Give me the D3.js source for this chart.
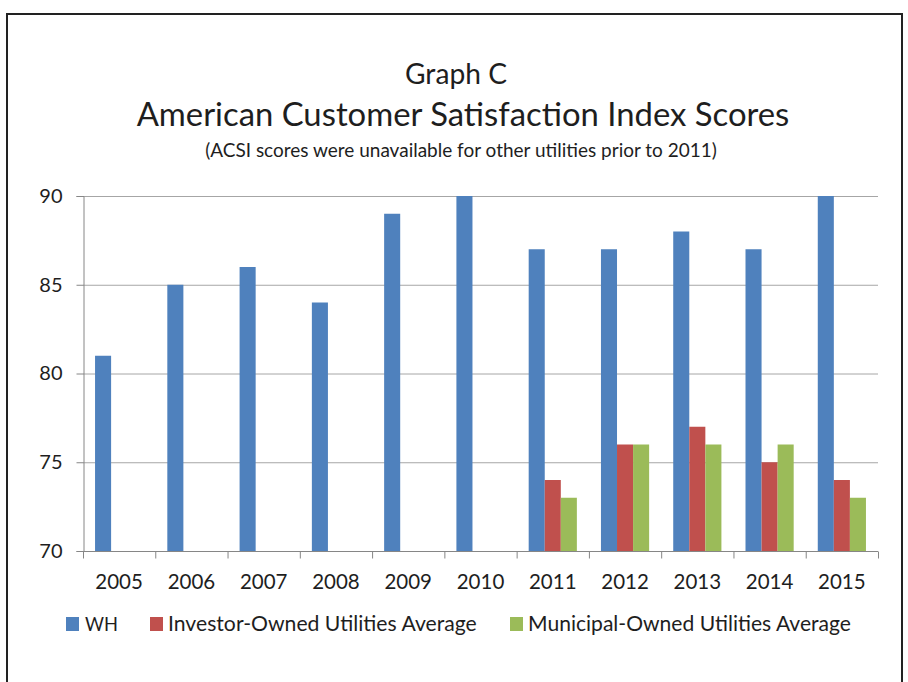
<!DOCTYPE html>
<html>
<head>
<meta charset="utf-8">
<script src="https://cdn.jsdelivr.net/npm/d3@7"></script>
<style>
  body { margin: 0; background: #fff; }
  text { font-family: Lato, "Open Sans", sans-serif; fill: #1e1e1e; }
</style>
</head>
<body>
<svg id="chart"></svg>
<script>
// chart size
var width = 908;
var height = 682;

// data
var years = ["2005", "2006", "2007", "2008", "2009", "2010", "2011", "2012", "2013", "2014", "2015"];
var seriesNames = ["WH", "Investor-Owned Utilities Average", "Municipal-Owned Utilities Average"];
var whScores = [81, 85, 86, 84, 89, 90, 87, 87, 88, 87, 90];
var investorScores = [null, null, null, null, null, null, 74, 76, 77, 75, 74];
var municipalScores = [null, null, null, null, null, null, 73, 76, 76, 76, 73];
var yTicks = [70, 75, 80, 85, 90];
var colors = ["#4f81bd", "#c0504d", "#9bbb59"];

var margin = {top: 196, right: 30, bottom: 131, left: 83};

var svg = d3.select("#chart")
            .attr("width", width)
            .attr("height", height);

// outer frame
svg.append("rect")
  .attr("x", 7).attr("y", 14)
  .attr("width", 895).attr("height", 720)
  .attr("fill", "none")
  .attr("stroke", "#222")
  .attr("stroke-width", 2);

// fit a text to a wanted width by changing its font size
function fitText(sel, target) {
  var w = sel.node().getComputedTextLength();
  var fs = parseFloat(sel.attr("font-size"));
  sel.attr("font-size", fs * target / w);
}

var t1 = svg.append("text").attr("x", 456).attr("y", 84)
  .attr("text-anchor", "middle").attr("font-size", 28).text("Graph C");
fitText(t1, 102);
var t2 = svg.append("text").attr("x", 463).attr("y", 126)
  .attr("text-anchor", "middle").attr("font-size", 30).text("American Customer Satisfaction Index Scores");
fitText(t2, 653);
var t3 = svg.append("text").attr("x", 461).attr("y", 157)
  .attr("text-anchor", "middle").attr("font-size", 16).text("(ACSI scores were unavailable for other utilities prior to 2011)");
fitText(t3, 512);

var x0 = d3.scaleBand()
  .domain(years)
  .range([margin.left, width - margin.right])
  .paddingInner(0).paddingOuter(0);

// bars take 3 of 4.5 parts of each band (Excel gap width 150%)
var x1 = d3.scaleBand()
  .domain([0, 1, 2])
  .range([x0.bandwidth() * 0.75 / 4.5, x0.bandwidth() - x0.bandwidth() * 0.75 / 4.5]);

var y = d3.scaleLinear()
  .domain([70, 90])
  .range([height - margin.bottom, margin.top]);

// gridlines
svg.append("g")
  .selectAll("line")
  .data(yTicks)
  .enter()
  .append("line")
  .attr("x1", margin.left).attr("x2", width - margin.right)
  .attr("y1", function(d) { return y(d) + 0.5; })
  .attr("y2", function(d) { return y(d) + 0.5; })
  .attr("stroke", "#a6a6a6")
  .attr("stroke-width", 1);

// bars
var table = years.map(function(yr, i) {
  return {year: yr, values: [whScores[i], investorScores[i], municipalScores[i]]};
});

var groups = svg.append("g")
  .selectAll("g")
  .data(table)
  .enter()
  .append("g")
  .attr("transform", function(d) { return "translate(" + x0(d.year) + ",0)"; });

groups.selectAll("rect")
  .data(function(d) {
    return d.values.map(function(v, k) { return {k: k, v: v}; })
                   .filter(function(e) { return e.v != null; });
  })
  .enter()
  .append("rect")
  .attr("x", function(d) { return x1(d.k); })
  .attr("width", x1.bandwidth())
  .attr("y", function(d) { return y(d.v); })
  .attr("height", function(d) { return y(70) - y(d.v); })
  .attr("fill", function(d) { return colors[d.k]; });

// y axis
var yAxis = svg.append("g")
  .attr("transform", "translate(" + (margin.left + 0.5) + ",0)")
  .call(d3.axisLeft(y).tickValues(yTicks).tickSize(7).tickPadding(14));
yAxis.select(".domain").attr("stroke", "#868686");
yAxis.selectAll(".tick line").attr("stroke", "#868686");
yAxis.selectAll(".tick text").attr("font-size", 20).attr("fill", "#1e1e1e")
  .style("font-family", "Lato, sans-serif");

// x axis with ticks between the categories
var xAxis = svg.append("g")
  .attr("transform", "translate(0," + (y(70) + 0.5) + ")");
xAxis.append("line")
  .attr("x1", margin.left).attr("x2", width - margin.right)
  .attr("stroke", "#868686");
xAxis.selectAll(".sep")
  .data(years.concat(["end"]))
  .enter()
  .append("line")
  .attr("class", "sep")
  .attr("x1", function(d, i) { return margin.left + i * x0.bandwidth() + 0.5; })
  .attr("x2", function(d, i) { return margin.left + i * x0.bandwidth() + 0.5; })
  .attr("y1", 0).attr("y2", 7)
  .attr("stroke", "#868686");
xAxis.selectAll("text")
  .data(years)
  .enter()
  .append("text")
  .attr("x", function(d) { return x0(d) + x0.bandwidth() / 2; })
  .attr("y", 37)
  .attr("text-anchor", "middle")
  .attr("font-size", 20.5)
  .text(function(d) { return d; });

// legend
var legendX = [66, 150, 510];
var legendW = [33, 309, 323];
var legend = svg.append("g")
  .selectAll("g")
  .data(seriesNames)
  .enter()
  .append("g")
  .attr("transform", function(d, i) { return "translate(" + legendX[i] + ",624)"; });
legend.append("rect")
  .attr("x", 0).attr("y", -7)
  .attr("width", 13).attr("height", 14)
  .attr("fill", function(d, i) { return colors[i]; });
legend.append("text")
  .attr("x", function(d, i) { return i == 0 ? 19 : 18; })
  .attr("y", 7)
  .attr("font-size", 20)
  .text(function(d) { return d; })
  .each(function(d, i) { fitText(d3.select(this), legendW[i]); });
</script>
</body>
</html>
